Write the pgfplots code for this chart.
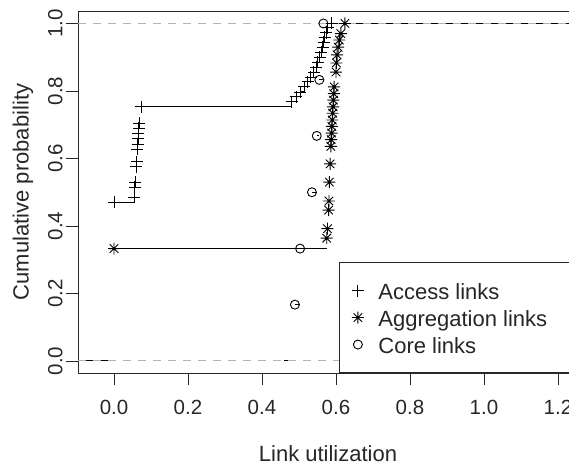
\documentclass[border=0pt]{standalone}
\usepackage{fontspec}
\setmainfont{Liberation Sans}
\usepackage{pgfplots}
\pgfplotsset{compat=1.18}
\definecolor{refgray}{HTML}{B3B3B3}
\makeatletter
\pgfdeclareplotmark{rstar}{%
  \pgfpathmoveto{\pgfqpoint{0pt}{\pgfplotmarksize}}\pgfpathlineto{\pgfqpoint{0pt}{-\pgfplotmarksize}}%
  \pgfpathmoveto{\pgfqpoint{\pgfplotmarksize}{0pt}}\pgfpathlineto{\pgfqpoint{-\pgfplotmarksize}{0pt}}%
  \pgfpathmoveto{\pgfqpoint{0.707\pgfplotmarksize}{0.707\pgfplotmarksize}}\pgfpathlineto{\pgfqpoint{-0.707\pgfplotmarksize}{-0.707\pgfplotmarksize}}%
  \pgfpathmoveto{\pgfqpoint{0.707\pgfplotmarksize}{-0.707\pgfplotmarksize}}\pgfpathlineto{\pgfqpoint{-0.707\pgfplotmarksize}{0.707\pgfplotmarksize}}%
  \pgfusepathqstroke}
\makeatother

\pgfplotstableread{
x y
0.000 0.470
0.054 0.485
0.056 0.515
0.057 0.530
0.060 0.576
0.061 0.591
0.063 0.628
0.064 0.643
0.065 0.659
0.066 0.674
0.067 0.689
0.068 0.704
0.073 0.753
0.480 0.768
0.492 0.783
0.504 0.797
0.514 0.812
0.523 0.827
0.532 0.841
0.540 0.856
0.546 0.871
0.551 0.885
0.556 0.900
0.560 0.915
0.564 0.929
0.567 0.944
0.570 0.959
0.573 0.973
0.578 0.988
0.588 1.000
}\access

\pgfplotstableread{
x y
0.000 0.333
0.575 0.364
0.577 0.392
0.580 0.447
0.581 0.474
0.582 0.530
0.584 0.584
0.586 0.636
0.587 0.656
0.588 0.675
0.589 0.695
0.590 0.714
0.591 0.734
0.592 0.753
0.593 0.773
0.594 0.792
0.595 0.812
0.600 0.856
0.601 0.883
0.603 0.907
0.606 0.930
0.609 0.951
0.613 0.970
0.624 1.000
}\aggr

\pgfplotstableread{
x y
0.489 0.167
0.503 0.333
0.535 0.500
0.548 0.667
0.555 0.833
0.566 1.000
}\core

\begin{document}
\begin{tikzpicture}
\begin{axis}[
  at={(0pt,0pt)}, anchor=south west,
  scale only axis, width=500pt, height=362pt,
  xmin=-0.0973, xmax=1.2541, ymin=-0.0356, ymax=1.037,
  axis line style={line width=0.9pt, black!85},
  tick pos=left, tick align=outside, major tick length=12pt,
  every tick/.style={black!85, line width=0.9pt},
  xtick={0,0.2,0.4,0.6,0.8,1.0,1.2},
  xticklabels={0.0,0.2,0.4,0.6,0.8,1.0,1.2},
  ytick={0,0.2,0.4,0.6,0.8,1.0},
  yticklabels={0.0,0.2,0.4,0.6,0.8,1.0},
  /pgf/number format/assume math mode=true,
  ticklabel style={font=\fontsize{20.5}{24}\selectfont, text=black!85},
  xticklabel style={yshift=-12pt},
  yticklabel style={rotate=90, anchor=south},
  xlabel={Link utilization}, ylabel={Cumulative probability},
  label style={font=\fontsize{22}{26}\selectfont, text=black!85},
  xlabel style={at={(axis description cs:0.5,-0.222)}, anchor=center},
  ylabel style={at={(axis description cs:-0.11,0.5)}, anchor=center},
  legend cell align=left,
  legend style={at={(axis cs:0.608,-0.0356)}, anchor=south west,
    draw=black!85, line width=0.9pt, fill=white,
    font=\fontsize{22}{26}\selectfont, text=black!85,
    inner xsep=12.5pt, inner ysep=15pt, row sep=1pt,
    nodes={inner sep=0pt, text height=22pt, text depth=4pt},
    /tikz/every odd column/.append style={column sep=14.5pt}},
]
% step lines (horizontal segments only)
\addplot[black, line width=1pt, jump mark left, forget plot] coordinates {
(-0.0973,0) (0.000,0.470) (0.054,0.485) (0.056,0.515) (0.057,0.530) (0.060,0.576) (0.061,0.591)
(0.063,0.628) (0.064,0.643) (0.065,0.659) (0.066,0.674) (0.067,0.689) (0.068,0.704) (0.073,0.753)
(0.480,0.768) (0.492,0.783) (0.504,0.797) (0.514,0.812) (0.523,0.827) (0.532,0.841) (0.540,0.856)
(0.546,0.871) (0.551,0.885) (0.556,0.900) (0.560,0.915) (0.564,0.929) (0.567,0.944) (0.570,0.959)
(0.573,0.973) (0.578,0.988) (0.588,1.000) (1.2541,1.000)};
\addplot[black, line width=1pt, jump mark left, forget plot] coordinates {
(-0.0973,0) (0.000,0.333) (0.575,0.364) (0.577,0.392) (0.580,0.447) (0.581,0.474) (0.582,0.530)
(0.584,0.584) (0.586,0.636) (0.587,0.656) (0.588,0.675) (0.589,0.695) (0.590,0.714) (0.591,0.734)
(0.592,0.753) (0.593,0.773) (0.594,0.792) (0.595,0.812) (0.600,0.856) (0.601,0.883) (0.603,0.907)
(0.606,0.930) (0.609,0.951) (0.613,0.970) (0.624,1.000) (0.674,1.000)};
\addplot[black, line width=1pt, jump mark left, forget plot] coordinates {
(0.459,0) (0.489,0.167) (0.503,0.333) (0.535,0.500) (0.548,0.667) (0.555,0.833) (0.566,1.000) (0.596,1.000)};
% points
\addplot[only marks, mark=+, mark size=6pt, black, mark options={line width=0.9pt}] table[x=x,y=y] {\access};
\addlegendentry{\makebox[184pt][l]{Access links}}
\addplot[only marks, mark=rstar, mark size=6pt, black, mark options={line width=0.9pt}] table[x=x,y=y] {\aggr};
\addlegendentry{\makebox[184pt][l]{Aggregation links}}
\addplot[only marks, mark=o, mark size=4.5pt, black, mark options={line width=0.9pt}] table[x=x,y=y] {\core};
\addlegendentry{\makebox[184pt][l]{Core links}}
% reference lines
\addplot[refgray, line width=1pt, dash pattern=on 7.5pt off 7.5pt, forget plot] coordinates {(-0.0973,0) (1.2541,0)};
\addplot[refgray, line width=1pt, dash pattern=on 7.5pt off 7.5pt, forget plot] coordinates {(-0.0973,1) (1.2541,1)};
\end{axis}
\pgfresetboundingbox
\useasboundingbox (-78pt,-97pt) rectangle (491pt,373pt);
\end{tikzpicture}
\end{document}
